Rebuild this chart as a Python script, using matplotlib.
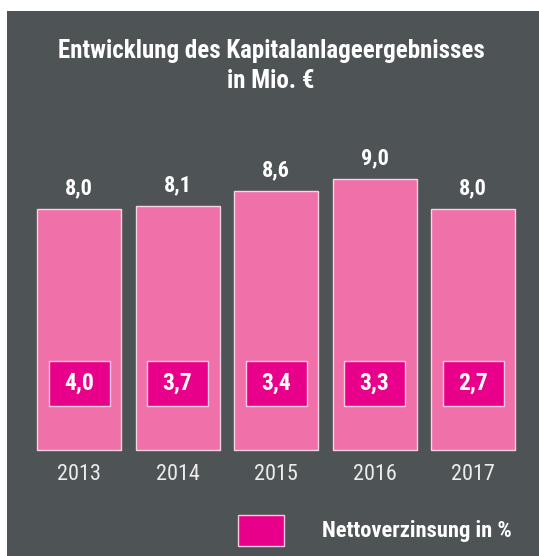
import matplotlib
matplotlib.use("Agg")
import matplotlib.pyplot as plt
from matplotlib.patches import Rectangle
from matplotlib import font_manager

years = ["2013", "2014", "2015", "2016", "2017"]
ergebnis = [8.0, 8.1, 8.6, 9.0, 8.0]          # Kapitalanlageergebnis in Mio. €
netto = [4.0, 3.7, 3.4, 3.3, 2.7]             # Nettoverzinsung in %
title = "Entwicklung des Kapitalanlageergebnisses\nin Mio. €"
legend_label = "Nettoverzinsung in %"

def fmt(v):
    return f"{v:.1f}".replace(".", ",")

available = {f.name for f in font_manager.fontManager.ttflist}
FAM = "DejaVu Sans"
for cand in ["Roboto Condensed", "Archivo Narrow", "Barlow Condensed", "Asap Condensed"]:
    if cand in available:
        FAM = cand
        break
FAMS = [FAM, "DejaVu Sans"]

W, H = 539, 556
fig = plt.figure(figsize=(W / 100, H / 100), dpi=100)
fig.patch.set_facecolor("white")
# dark chalkboard panel
fig.patches.append(Rectangle((7 / W, 0), 1 - 7 / W, (H - 11) / H,
                             transform=fig.transFigure, facecolor="#4e5356",
                             edgecolor="none", zorder=-10))

ax = fig.add_axes([0, 0, 1, 1])
ax.set_zorder(1)
ax.set_facecolor("none")
ax.axis("off")
px_per_cat = 98.5
ax.set_xlim(-79 / px_per_cat, (W - 79) / px_per_cat)
px_per_unit = 30.1
ax.set_ylim(-106 / px_per_unit, (H - 106) / px_per_unit)

bar_color = "#f071a9"
box_color = "#e8008a"
xs = list(range(len(years)))
ax.bar(xs, ergebnis, width=84 / px_per_cat, color=bar_color,
       edgecolor="#f7d3e3", linewidth=1.0, zorder=2)

box_w = 61 / px_per_cat
box_h = 45 / px_per_unit
box_cy = (H - 383.5 - 106) / px_per_unit
for x, v, n, y in zip(xs, ergebnis, netto, years):
    ax.annotate(fmt(v), (x, v), xytext=(0, 21), textcoords="offset pixels",
                ha="center", va="center", color="white", fontsize=16,
                fontweight="bold", family=FAMS, zorder=4)
    ax.add_patch(Rectangle((x - box_w / 2, box_cy - box_h / 2), box_w, box_h,
                           facecolor=box_color, edgecolor="#f9c9df",
                           linewidth=1.0, zorder=3))
    ax.text(x, box_cy, fmt(n), ha="center", va="center", color="white",
            fontsize=17, fontweight="bold", family=FAMS, zorder=4)
    ax.annotate(y, (x, 0), xytext=(0, -24), textcoords="offset pixels",
                ha="center", va="center", color="#ececec", fontsize=16,
                family=FAMS, zorder=4)

ax.text(0.503, 1 - 66 / H, title, transform=ax.transAxes, ha="center",
        va="center", color="white", fontsize=18, fontweight="bold",
        family=FAMS, linespacing=1.3, zorder=4)

# legend
ax.add_patch(Rectangle((238 / W, 1 - 546 / H), 46 / W, 31 / H,
                       transform=ax.transAxes, facecolor=box_color,
                       edgecolor="#f9c9df", linewidth=1.0, zorder=3))
ax.text(322 / W, 1 - 531 / H, legend_label, transform=ax.transAxes,
        ha="left", va="center", color="white", fontsize=16.2,
        fontweight="bold", family=FAMS, zorder=4)

fig.savefig("out.png", dpi=100, facecolor=fig.get_facecolor())
